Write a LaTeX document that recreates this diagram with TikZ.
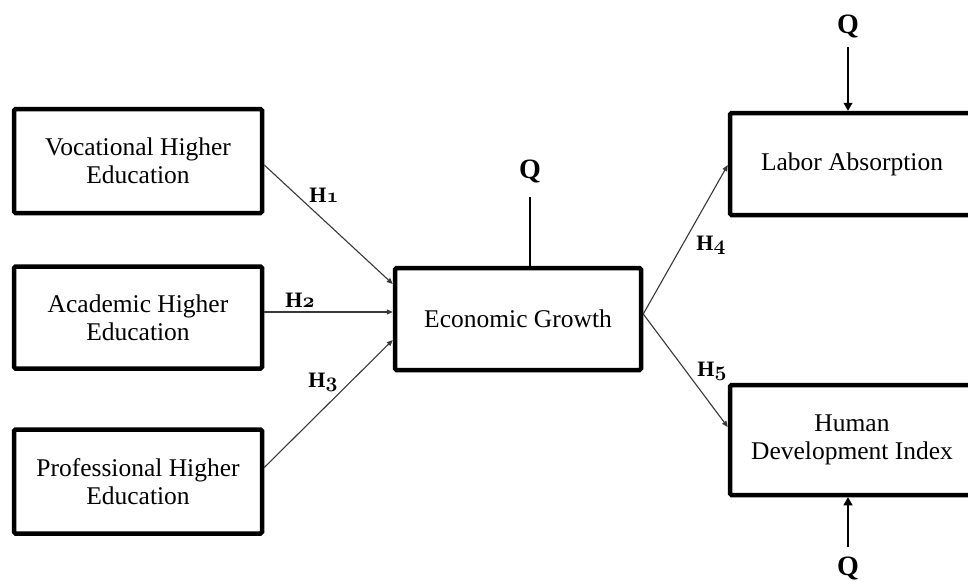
\documentclass[tikz,border=0pt]{standalone}
\usepackage{fontspec}
\setmainfont{Liberation Serif}
\usetikzlibrary{arrows.meta,calc}
\newcommand{\osfdig}[1]{{\usefont{OML}{cmm}{b}{it}#1}}
\begin{document}
\begin{tikzpicture}[x=1pt,y=-1pt,
  box/.style={draw, line width=4.5pt, rounded corners=1.5pt, inner sep=0pt, align=center,
              font=\fontsize{25.5}{28}\selectfont},
  hlab/.style={font=\fontsize{22}{24}\selectfont\bfseries, inner sep=0pt},
  qlab/.style={font=\fontsize{28}{30}\selectfont\bfseries, inner xsep=0pt, inner ysep=9pt},
  conn/.style={line width=1.1pt, draw=black!78},
  tipH/.style={-{Triangle[length=6pt,width=5pt]}},
  tipQ/.style={-{Triangle[length=8pt,width=9pt]}}]
\useasboundingbox (0,0) rectangle (968,581);
\fill[white] (0,0) rectangle (968,581);

% boxes
\node[box, minimum width=248pt, minimum height=104pt] (V) at (138,161) {Vocational Higher\\Education};
\node[box, minimum width=248pt, minimum height=102pt] (A) at (138,317.5) {Academic Higher\\Education};
\node[box, minimum width=248pt, minimum height=104pt] (P) at (138,481.5) {Professional Higher\\Education};
\node[box, minimum width=246pt, minimum height=102pt] (EG) at (518,319) {Economic Growth};
\node[box, minimum width=244pt, minimum height=102pt] (LA) at (852,164) {Labor Absorption};
\node[box, minimum width=244pt, minimum height=110pt] (HDI) at (852,440) {Human\\Development Index};

% Q labels
\node[qlab] (Q1) at (848,26.5) {Q};
\node[qlab] (Q2) at (530,171) {Q};
\node[qlab] (Q3) at (848,568) {Q};

% hypothesis connectors
\draw[conn, tipH] ($(V.east)+(0,4)$) -- ($(EG.west)+(0,-35)$);
\draw[conn, tipH] ($(A.east)+(0,-5.5)$) -- ($(EG.west)+(0,-7)$);
\draw[conn, tipH] ($(P.east)+(0,-14)$) -- ($(EG.west)+(0,21)$);
\draw[conn, tipH] ($(EG.east)+(0,-5)$) -- ($(LA.west)+(0,1)$);
\draw[conn, tipH] ($(EG.east)+(0,-5)$) -- ($(HDI.west)+(0,-13)$);

% Q connectors
\draw[line width=1.1pt, tipQ] (Q1.south) -- (Q1.south |- LA.north);
\draw[line width=1.1pt, shorten <=5pt] (Q2.south) -- (Q2.south |- EG.north);
\draw[line width=1.1pt, tipQ] (Q3.north) -- (Q3.north |- HDI.south);

% hypothesis labels
\node[hlab] (H1) at (324,195) {H\osfdig{1}};
\node[hlab] (H2) at (300,300) {H\osfdig{2}};
\node[hlab] (H3) at (323,382) {H\osfdig{3}};
\node[hlab] (H4) at (711,245) {H\osfdig{4}};
\node[hlab] (H5) at (712,371) {H\osfdig{5}};
\end{tikzpicture}
\end{document}
